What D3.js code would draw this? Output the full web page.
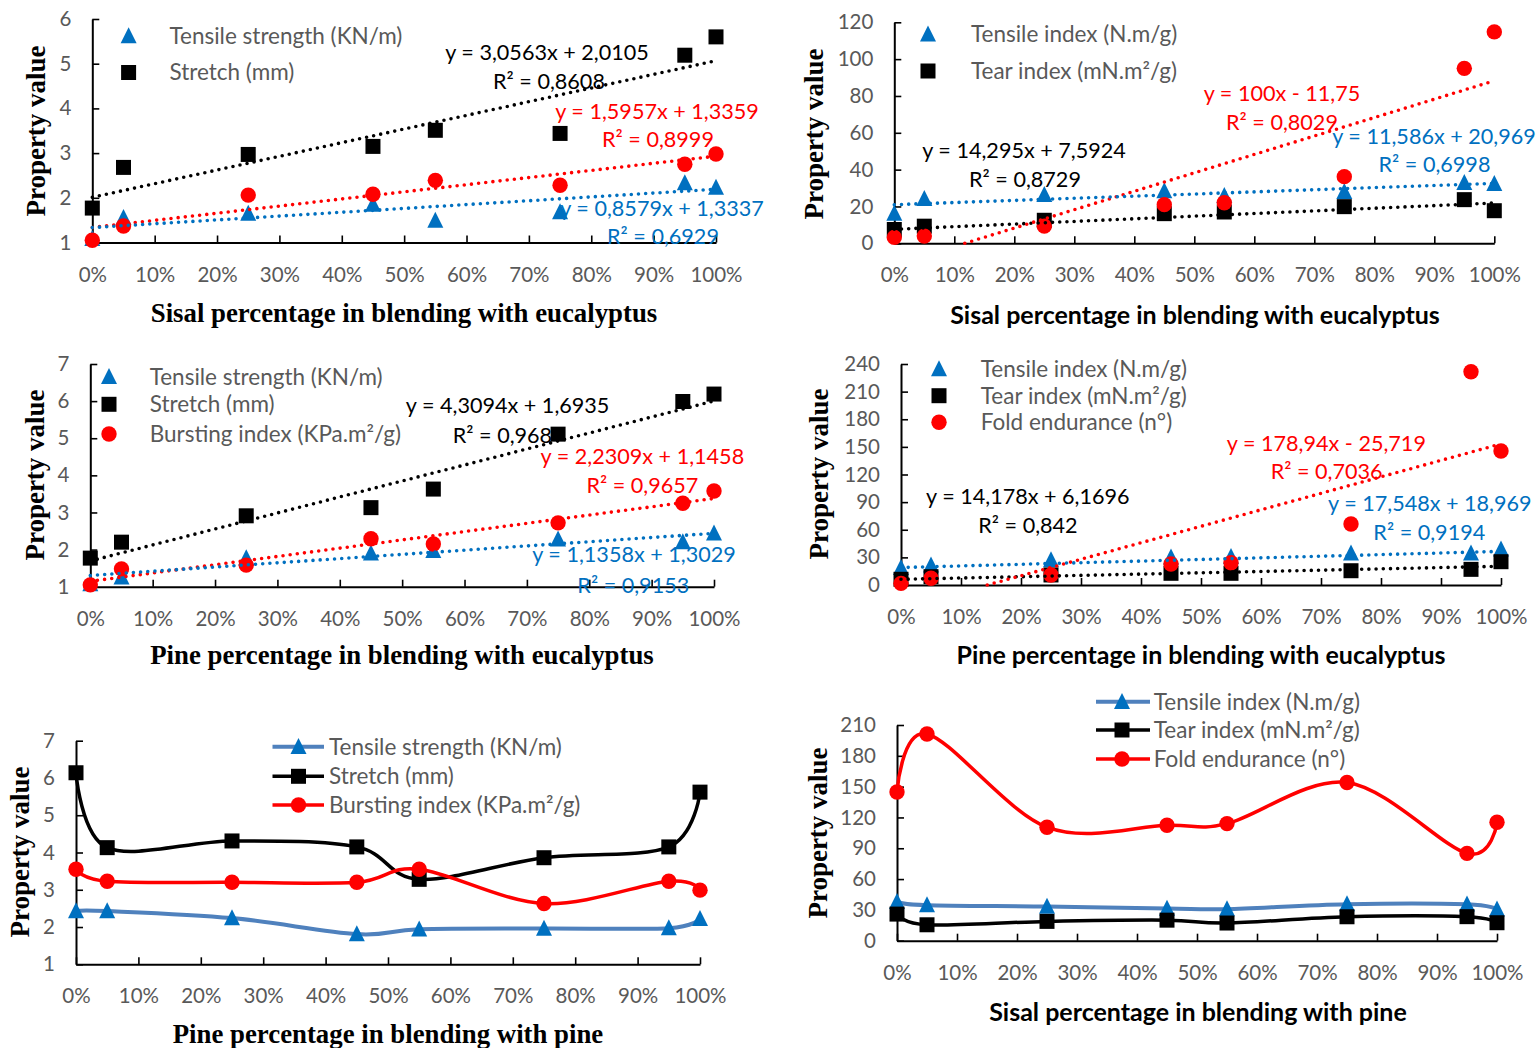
<!DOCTYPE html>
<html>
<head>
<meta charset="utf-8">
<script src="https://cdnjs.cloudflare.com/ajax/libs/d3/7.8.5/d3.min.js"></script>
<style>
  body { margin: 0; background: #fff; }
  text { font-family: Lato, "Open Sans", sans-serif; }
</style>
</head>
<body>
<div id="chart"></div>
<script>
// blend percentages, same for all six panels
var blendPct = [0, 5, 25, 45, 55, 75, 95, 100];
var pctTicks = [0, 10, 20, 30, 40, 50, 60, 70, 80, 90, 100];

// sisal blended with eucalyptus
var seTensile = [1.08, 1.55, 1.65, 1.85, 1.49, 1.68, 2.33, 2.23];
var seStretch = [1.77, 2.68, 2.97, 3.15, 3.51, 3.44, 5.19, 5.6];
var seBurst = [1.05, 1.37, 2.06, 2.08, 2.39, 2.28, 2.75, 2.98];
var seTensileIdx = [16.1, 24.2, 26.4, 28.4, 25.8, 28, 32.8, 32.3];
var seTearIdx = [7.5, 9.3, 12.5, 16.1, 17, 19.9, 23.7, 17.7];
var seFold = [3.2, 3.9, 9.3, 21, 22, 36.2, 95, 114.8];

// pine blended with eucalyptus
var peTensile = [1.07, 1.25, 1.77, 1.9, 1.97, 2.28, 2.2, 2.44];
var peStretch = [1.77, 2.2, 2.91, 3.13, 3.63, 5.11, 5.99, 6.19];
var peBurst = [1.05, 1.48, 1.58, 2.29, 2.15, 2.72, 3.25, 3.58];
var peTensileIdx = [18.8, 21.4, 27.1, 30, 30.7, 34.4, 34.4, 38.8];
var peTearIdx = [6.2, 9, 10.9, 12.7, 12.7, 15.5, 17, 25.3];
var peFold = [1.8, 7.3, 10.9, 22.8, 24.2, 66.2, 231.6, 145.5];

// pine with pine / sisal with pine (line charts)
var ppTensile = [2.43, 2.43, 2.24, 1.81, 1.94, 1.96, 1.97, 2.22];
var ppStretch = [6.14, 4.13, 4.31, 4.15, 3.28, 3.86, 4.15, 5.62];
var ppBurst = [3.55, 3.23, 3.2, 3.2, 3.55, 2.63, 3.23, 2.99];
var spTensileIdx = [37.8, 34.6, 33.3, 31.4, 30.7, 35.6, 35.5, 30.5];
var spTearIdx = [25.9, 15.5, 18.8, 20, 17.2, 23.3, 23.4, 17.5];
var spFold = [144.8, 201.3, 110.5, 112.4, 114, 154, 85, 115.3];

// trendlines: [slope, intercept] and their labels
var seTrendStretch = [3.0563, 2.0105], seLblStretch = ['y = 3,0563x + 2,0105', 'R² = 0,8608'];
var seTrendBurst = [1.5957, 1.3359], seLblBurst = ['y = 1,5957x + 1,3359', 'R² = 0,8999'];
var seTrendTensile = [0.8579, 1.3337], seLblTensile = ['y = 0,8579x + 1,3337', 'R² = 0,6929'];
var seTrendTear = [14.295, 7.5924], seLblTear = ['y = 14,295x + 7,5924', 'R² = 0,8729'];
var seTrendFold = [100, -11.75], seLblFold = ['y = 100x - 11,75', 'R² = 0,8029'];
var seTrendTensileIdx = [11.586, 20.969], seLblTensileIdx = ['y = 11,586x + 20,969', 'R² = 0,6998'];
var peTrendStretch = [4.3094, 1.6935], peLblStretch = ['y = 4,3094x + 1,6935', 'R² = 0,968'];
var peTrendBurst = [2.2309, 1.1458], peLblBurst = ['y = 2,2309x + 1,1458', 'R² = 0,9657'];
var peTrendTensile = [1.1358, 1.3029], peLblTensile = ['y = 1,1358x + 1,3029', 'R² = 0,9153'];
var peTrendTear = [14.178, 6.1696], peLblTear = ['y = 14,178x + 6,1696', 'R² = 0,842'];
var peTrendFold = [178.94, -25.719], peLblFold = ['y = 178,94x - 25,719', 'R² = 0,7036'];
var peTrendTensileIdx = [17.548, 18.969], peLblTensileIdx = ['y = 17,548x + 18,969', 'R² = 0,9194'];

var BLUE = '#0070C0', RED = '#FF0000', BLACK = '#000000', GREY = '#595959';
var SERIF = '"Liberation Serif", "Times New Roman", serif';
var SANS = 'Lato, "Open Sans", sans-serif';

var svg = d3.select('#chart').append('svg')
  .attr('width', 1536).attr('height', 1048);

// triangle with equal width and height, size = side^2
var symTriangle = {
  draw: function(ctx, size) {
    var h = Math.sqrt(size);
    ctx.moveTo(0, -h * 0.55);
    ctx.lineTo(h / 2, h * 0.45);
    ctx.lineTo(-h / 2, h * 0.45);
    ctx.closePath();
  }
};
var markers = {
  tri: d3.symbol().type(symTriangle).size(16 * 16)(),
  sq: d3.symbol().type(d3.symbolSquare).size(15 * 15)(),
  circ: d3.symbol().type(d3.symbolCircle).size(Math.PI * 7.7 * 7.7)()
};

function drawPanel(p) {
  var g = svg.append('g');
  var x = d3.scaleLinear().domain([0, 100]).range([p.x0, p.x1]);
  var y = d3.scaleLinear().domain(p.ydom).range([p.yb, p.yt]);

  // axes
  var xAxis = g.append('g').attr('transform', 'translate(0,' + p.yb + ')')
    .call(d3.axisBottom(x).tickValues(pctTicks).tickFormat(function(d) { return d + '%'; })
      .tickSizeInner(-7).tickSizeOuter(0));
  xAxis.selectAll('text').attr('y', 32).attr('dy', '0.35em');
  var yAxis = g.append('g').attr('transform', 'translate(' + p.x0 + ',0)')
    .call(d3.axisLeft(y).tickValues(d3.range(p.ydom[0], p.ydom[1] + 0.001, p.ystep))
      .tickFormat(d3.format('~g'))
      .tickSizeInner(-7).tickSizeOuter(0).tickPadding(21));
  [xAxis, yAxis].forEach(function(a) {
    a.select('.domain').attr('stroke', '#000').attr('stroke-width', 2);
    a.selectAll('.tick line').attr('stroke', '#000').attr('stroke-width', 1.6);
    a.selectAll('.tick text').attr('fill', GREY).style('font-family', SANS).style('font-size', '20.5px');
  });

  // axis titles
  g.append('text')
    .attr('x', p.xt[0]).attr('y', p.xt[1]).attr('text-anchor', 'middle').attr('dy', '0.35em')
    .style('font-family', p.serif ? SERIF : SANS).style('font-weight', 'bold')
    .style('font-size', p.serif ? '26.8px' : '25px').text(p.xtitle);
  g.append('text')
    .attr('transform', 'translate(' + p.yt2[0] + ',' + p.yt2[1] + ') rotate(-90)')
    .attr('text-anchor', 'middle').attr('dy', '0.35em')
    .style('font-family', SERIF).style('font-weight', 'bold').style('font-size', '27px')
    .text('Property value');

  // line series (smoothed)
  p.series.forEach(function(s) {
    if (!s.line) return;
    var pts = blendPct.map(function(d, i) { return [x(d), y(s.values[i])]; });
    g.append('path')
      .attr('d', d3.line().curve(d3.curveCardinal.tension(0))(pts))
      .attr('fill', 'none').attr('stroke', s.line).attr('stroke-width', s.lw || 3.5);
    g.selectAll(null).data(s.values).enter().append('path')
      .attr('transform', function(d, i) { return 'translate(' + x(blendPct[i]) + ',' + y(d) + ')'; })
      .attr('d', markers[s.marker]).attr('fill', s.color);
  });

  // scatter series
  p.series.forEach(function(s) {
    if (s.line) return;
    g.selectAll(null).data(s.values).enter().append('path')
      .attr('transform', function(d, i) { return 'translate(' + x(blendPct[i]) + ',' + y(d) + ')'; })
      .attr('d', markers[s.marker]).attr('fill', s.color);
  });

  // linear trendlines, dotted
  (p.trends || []).forEach(function(t) {
    var m = t.coef[0], b = t.coef[1];
    var xs = Math.max(0, (p.ydom[0] - b) / m * 100);
    var pts = [xs, 100].map(function(v) { return [x(v), y(b + m * v / 100)]; });
    g.append('path').attr('d', d3.line()(pts))
      .attr('stroke', t.color).attr('stroke-width', 3.6)
      .attr('stroke-linecap', 'round').attr('stroke-dasharray', '0 7.2').attr('fill', 'none');
    t.label.forEach(function(txt, k) {
      g.append('text')
        .attr('x', t.pos[k][0]).attr('y', t.pos[k][1]).attr('dy', '0.35em')
        .attr('text-anchor', 'middle').attr('fill', t.color)
        .style('font-size', '21.6px').text(txt);
    });
  });

  // legend
  p.legend.forEach(function(l) {
    if (l.lineX) {
      g.append('line').attr('x1', l.lineX[0]).attr('x2', l.lineX[1])
        .attr('y1', l.y).attr('y2', l.y).attr('stroke', l.line).attr('stroke-width', l.lw || 3.5);
    }
    g.append('path').attr('transform', 'translate(' + l.mx + ',' + l.y + ')')
      .attr('d', markers[l.marker]).attr('fill', l.color);
    g.append('text').attr('x', l.tx).attr('y', l.y).attr('dy', '0.35em')
      .attr('fill', GREY).style('font-size', '22.5px').text(l.text);
  });
}

// panel 1: sisal / eucalyptus, strength
drawPanel({
  x0: 92.3, x1: 716, yb: 242.5, yt: 19, ydom: [1, 6], ystep: 1,
  xtitle: 'Sisal percentage in blending with eucalyptus', serif: true,
  xt: [404, 313], yt2: [35.5, 131],
  series: [
    { values: seTensile, marker: 'tri', color: BLUE },
    { values: seStretch, marker: 'sq', color: BLACK },
    { values: seBurst, marker: 'circ', color: RED }
  ],
  trends: [
    { coef: seTrendStretch, color: BLACK, label: seLblStretch, pos: [[547, 52], [549, 81]] },
    { coef: seTrendBurst, color: RED, label: seLblBurst, pos: [[657, 111], [658, 139]] },
    { coef: seTrendTensile, color: BLUE, label: seLblTensile, pos: [[662, 208], [663, 236]] }
  ],
  legend: [
    { marker: 'tri', color: BLUE, mx: 128.6, tx: 169.5, y: 36, text: 'Tensile strength (KN/m)' },
    { marker: 'sq', color: BLACK, mx: 128.6, tx: 169.5, y: 72.5, text: 'Stretch (mm)' }
  ]
});

// panel 2: sisal / eucalyptus, indices
drawPanel({
  x0: 894.3, x1: 1494.3, yb: 243.3, yt: 22.3, ydom: [0, 120], ystep: 20,
  xtitle: 'Sisal percentage in blending with eucalyptus', serif: false,
  xt: [1195, 315], yt2: [814, 134],
  series: [
    { values: seTensileIdx, marker: 'tri', color: BLUE },
    { values: seTearIdx, marker: 'sq', color: BLACK },
    { values: seFold, marker: 'circ', color: RED }
  ],
  trends: [
    { coef: seTrendTear, color: BLACK, label: seLblTear, pos: [[1024, 150.5], [1025, 179]] },
    { coef: seTrendFold, color: RED, label: seLblFold, pos: [[1282, 93.3], [1282, 122.3]] },
    { coef: seTrendTensileIdx, color: BLUE, label: seLblTensileIdx, pos: [[1434, 136], [1434.5, 164.3]] }
  ],
  legend: [
    { marker: 'tri', color: BLUE, mx: 928, tx: 971, y: 34.3, text: 'Tensile index (N.m/g)' },
    { marker: 'sq', color: BLACK, mx: 928, tx: 971, y: 71, text: 'Tear index (mN.m²/g)' }
  ]
});

// panel 3: pine / eucalyptus, strength
drawPanel({
  x0: 90.3, x1: 714, yb: 586.7, yt: 364, ydom: [1, 7], ystep: 1,
  xtitle: 'Pine percentage in blending with eucalyptus', serif: true,
  xt: [402, 655], yt2: [34.4, 475],
  series: [
    { values: peTensile, marker: 'tri', color: BLUE },
    { values: peStretch, marker: 'sq', color: BLACK },
    { values: peBurst, marker: 'circ', color: RED }
  ],
  trends: [
    { coef: peTrendStretch, color: BLACK, label: peLblStretch, pos: [[507.6, 405.7], [502.5, 435]] },
    { coef: peTrendBurst, color: RED, label: peLblBurst, pos: [[642.4, 456.7], [642.4, 485.7]] },
    { coef: peTrendTensile, color: BLUE, label: peLblTensile, pos: [[634, 554.3], [633.3, 585.7]] }
  ],
  legend: [
    { marker: 'tri', color: BLUE, mx: 109, tx: 149.7, y: 376.7, text: 'Tensile strength (KN/m)' },
    { marker: 'sq', color: BLACK, mx: 109, tx: 149.7, y: 404.3, text: 'Stretch (mm)' },
    { marker: 'circ', color: RED, mx: 109, tx: 149.7, y: 434, text: 'Bursting index (KPa.m²/g)' }
  ]
});

// panel 4: pine / eucalyptus, indices
drawPanel({
  x0: 901, x1: 1501, yb: 585, yt: 364, ydom: [0, 240], ystep: 30,
  xtitle: 'Pine percentage in blending with eucalyptus', serif: false,
  xt: [1201, 655], yt2: [819, 474],
  series: [
    { values: peTensileIdx, marker: 'tri', color: BLUE },
    { values: peTearIdx, marker: 'sq', color: BLACK },
    { values: peFold, marker: 'circ', color: RED }
  ],
  trends: [
    { coef: peTrendTear, color: BLACK, label: peLblTear, pos: [[1027.8, 496.7], [1028, 525]] },
    { coef: peTrendFold, color: RED, label: peLblFold, pos: [[1326.4, 443.3], [1326.6, 471]] },
    { coef: peTrendTensileIdx, color: BLUE, label: peLblTensileIdx, pos: [[1429.8, 503.3], [1429.3, 532.3]] }
  ],
  legend: [
    { marker: 'tri', color: BLUE, mx: 939, tx: 980.8, y: 369, text: 'Tensile index (N.m/g)' },
    { marker: 'sq', color: BLACK, mx: 939, tx: 980.8, y: 395.7, text: 'Tear index (mN.m²/g)' },
    { marker: 'circ', color: RED, mx: 939, tx: 980.8, y: 422.3, text: 'Fold endurance (n°)' }
  ]
});

// panel 5: pine with pine, smoothed lines
drawPanel({
  x0: 76, x1: 700, yb: 964.3, yt: 740.7, ydom: [1, 7], ystep: 1,
  xtitle: 'Pine percentage in blending with pine', serif: true,
  xt: [388, 1034], yt2: [19.6, 852],
  series: [
    { values: ppTensile, marker: 'tri', color: BLUE, line: '#4F81BD', lw: 4 },
    { values: ppStretch, marker: 'sq', color: BLACK, line: BLACK, lw: 3.5 },
    { values: ppBurst, marker: 'circ', color: RED, line: RED, lw: 3.5 }
  ],
  legend: [
    { marker: 'tri', color: BLUE, line: '#4F81BD', lw: 4, lineX: [272.5, 324], mx: 298.5, tx: 329, y: 746.7, text: 'Tensile strength (KN/m)' },
    { marker: 'sq', color: BLACK, line: BLACK, lineX: [272.5, 324], mx: 298.5, tx: 329, y: 776.3, text: 'Stretch (mm)' },
    { marker: 'circ', color: RED, line: RED, lineX: [272.5, 324], mx: 298.5, tx: 329, y: 805, text: 'Bursting index (KPa.m²/g)' }
  ]
});

// panel 6: sisal with pine, smoothed lines
drawPanel({
  x0: 897, x1: 1497, yb: 940.7, yt: 725, ydom: [0, 210], ystep: 30,
  xtitle: 'Sisal percentage in blending with pine', serif: false,
  xt: [1198, 1012], yt2: [817.5, 833],
  series: [
    { values: spTensileIdx, marker: 'tri', color: BLUE, line: '#4F81BD', lw: 4 },
    { values: spTearIdx, marker: 'sq', color: BLACK, line: BLACK, lw: 3.5 },
    { values: spFold, marker: 'circ', color: RED, line: RED, lw: 3.5 }
  ],
  legend: [
    { marker: 'tri', color: BLUE, line: '#4F81BD', lw: 4, lineX: [1096, 1150], mx: 1122, tx: 1153.8, y: 701.7, text: 'Tensile index (N.m/g)' },
    { marker: 'sq', color: BLACK, line: BLACK, lineX: [1096, 1150], mx: 1122, tx: 1153.8, y: 730, text: 'Tear index (mN.m²/g)' },
    { marker: 'circ', color: RED, line: RED, lineX: [1096, 1150], mx: 1122, tx: 1153.8, y: 759, text: 'Fold endurance (n°)' }
  ]
});
</script>
</body>
</html>
